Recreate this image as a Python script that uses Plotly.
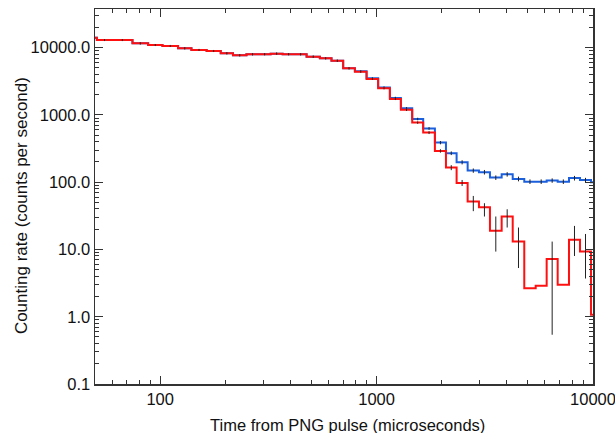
import plotly.graph_objects as go
import numpy as np

# Bin edges (microseconds)
bin_edges = [46, 51, 60, 74.5, 88, 102.5, 121, 139.5, 164, 190.5, 217, 250.5, 285, 324, 368,
             418, 475, 547, 619, 701, 794, 899, 1017, 1152, 1295, 1461, 1642, 1860, 2092,
             2343, 2635, 2972, 3341, 3784, 4256, 4813, 5435, 6108, 6867, 7745, 8709, 9788, 11005]

# Counting rate, all events (blue)
rate_blue = [14100, 13000, 13000, 11600, 10960, 10600, 9800, 9250, 8930, 8260, 7710, 7980,
             8000, 8150, 8000, 7980, 7350, 6950, 6400, 4940, 4450, 3500, 2560, 1790,
             1260, 870, 630, 388, 270, 198, 149, 141, 117, 131, 112, 102, 102, 106, 102,
             115, 108, 100]
err_blue = [500, 450, 450, 400, 380, 370, 340, 320, 310, 290, 270, 280,
            280, 285, 280, 280, 260, 245, 225, 175, 160, 125, 95, 70,
            50, 38, 30, 22, 17, 14, 11, 11, 9, 10, 9, 8, 8, 8, 8,
            9, 8, 8]

# Counting rate, selected events (red)
rate_red = [14100, 13000, 13000, 11600, 10960, 10600, 9800, 9250, 8930, 8260, 7710, 7980,
            8000, 8150, 8000, 7980, 7350, 6950, 6400, 4940, 4400, 3430, 2490, 1730,
            1190, 770, 546, 292, 165, 97, 51.5, 42.5, 18.9, 30.8, 13.1, 2.66, 2.88, 7.2, 2.98,
            13.9, 9.3, 1.07]
err_red_plus = [500, 450, 450, 400, 380, 370, 340, 320, 310, 290, 270, 280,
                280, 285, 280, 280, 260, 245, 225, 175, 155, 120, 90, 65,
                45, 32, 26, 17, 14, 11, 11, 6.2, 12, 8.8, 8.1, 0, 0, 5.9, 0,
                8.5, 7.7, 0]
err_red_minus = [500, 450, 450, 400, 380, 370, 340, 320, 310, 290, 270, 280,
                 280, 285, 280, 280, 260, 245, 225, 175, 155, 120, 90, 65,
                 45, 32, 26, 17, 14, 9, 14.4, 11.6, 9.6, 9.6, 7.8, 0, 0, 6.66, 0,
                 5.9, 5.6, 0]

xtick_vals = [100, 1000, 10000]
xtick_text = ["100", "1000", "10000"]
xminor_vals = [60, 70, 80, 90, 200, 300, 400, 500, 600, 700, 800, 900,
               2000, 3000, 4000, 5000, 6000, 7000, 8000, 9000]
ytick_vals = [0.1, 1, 10, 100, 1000, 10000]
ytick_text = ["0.1", "1.0", "10.0", "100.0", "1000.0", "10000.0"]
yminor_vals = [0.2, 0.3, 0.4, 0.5, 0.6, 0.7, 0.8, 0.9,
               2, 3, 4, 5, 6, 7, 8, 9,
               20, 30, 40, 50, 60, 70, 80, 90,
               200, 300, 400, 500, 600, 700, 800, 900,
               2000, 3000, 4000, 5000, 6000, 7000, 8000, 9000,
               20000, 30000]

x_title = "Time from PNG pulse (microseconds)"
y_title = "Counting rate (counts per second)"

edges = np.array(bin_edges)
centers = np.sqrt(edges[:-1] * edges[1:])

def step_xy(vals):
    return list(edges), list(vals) + [vals[-1]]

fig = go.Figure()

xb, yb = step_xy(rate_blue)
fig.add_trace(go.Scatter(x=xb, y=yb, mode="lines", line=dict(color="#1b5fdc", width=2, shape="hv"),
                         hoverinfo="skip", showlegend=False))
fig.add_trace(go.Scatter(x=centers, y=rate_blue, mode="markers", marker=dict(size=0.1, color="rgba(0,0,0,0)"),
                         error_y=dict(type="data", array=err_blue, color="#222222", thickness=1, width=0),
                         showlegend=False, hoverinfo="skip"))
xr, yr = step_xy(rate_red)
fig.add_trace(go.Scatter(x=xr, y=yr, mode="lines", line=dict(color="#ff1010", width=2, shape="hv"),
                         hoverinfo="skip", showlegend=False))
fig.add_trace(go.Scatter(x=centers, y=rate_red, mode="markers", marker=dict(size=0.1, color="rgba(0,0,0,0)"),
                         error_y=dict(type="data", array=err_red_plus, arrayminus=err_red_minus,
                                      color="#222222", thickness=1, width=0),
                         showlegend=False, hoverinfo="skip"))

font = dict(family="Liberation Sans, Arial, Helvetica, sans-serif", size=16.5, color="#111111")
axis_common = dict(showline=True, linecolor="#333333", linewidth=1.5, mirror="ticks",
                   ticks="inside", ticklen=8, tickwidth=1, tickcolor="#333333",
                   showgrid=False, zeroline=False, automargin=False,
                   ticklabeloverflow="allow")

fig.update_xaxes(type="log", range=[np.log10(50), 4], tickvals=xtick_vals, ticktext=xtick_text,
                 minor=dict(ticks="inside", ticklen=4, tickwidth=1, tickcolor="#333333",
                            showgrid=False, tickvals=xminor_vals),
                 tickfont=font, **axis_common)
fig.update_yaxes(type="log", range=[-1, 4.575], tickvals=ytick_vals, ticktext=ytick_text,
                 minor=dict(ticks="inside", ticklen=4, tickwidth=1, tickcolor="#333333",
                            showgrid=False, tickvals=yminor_vals),
                 tickfont=font, **axis_common)

fig.add_annotation(text=x_title, xref="paper", yref="paper", x=0.507, y=-0.1088,
                   xanchor="center", yanchor="middle", showarrow=False,
                   font=dict(family=font["family"], size=16.5, color="#111111"))
fig.add_annotation(text=y_title, xref="paper", yref="paper", x=-0.1486, y=0.477,
                   xanchor="center", yanchor="middle", showarrow=False, textangle=-90,
                   font=dict(family=font["family"], size=17, color="#111111"))

fig.update_layout(width=615, height=433, margin=dict(l=95, r=22, t=9, b=49),
                  plot_bgcolor="white", paper_bgcolor="white", font=font, hovermode=False)

fig.write_html("out.html", config={"displayModeBar": False, "staticPlot": True},
               post_script="document.body.style.margin='0';document.body.style.overflow='hidden';")
